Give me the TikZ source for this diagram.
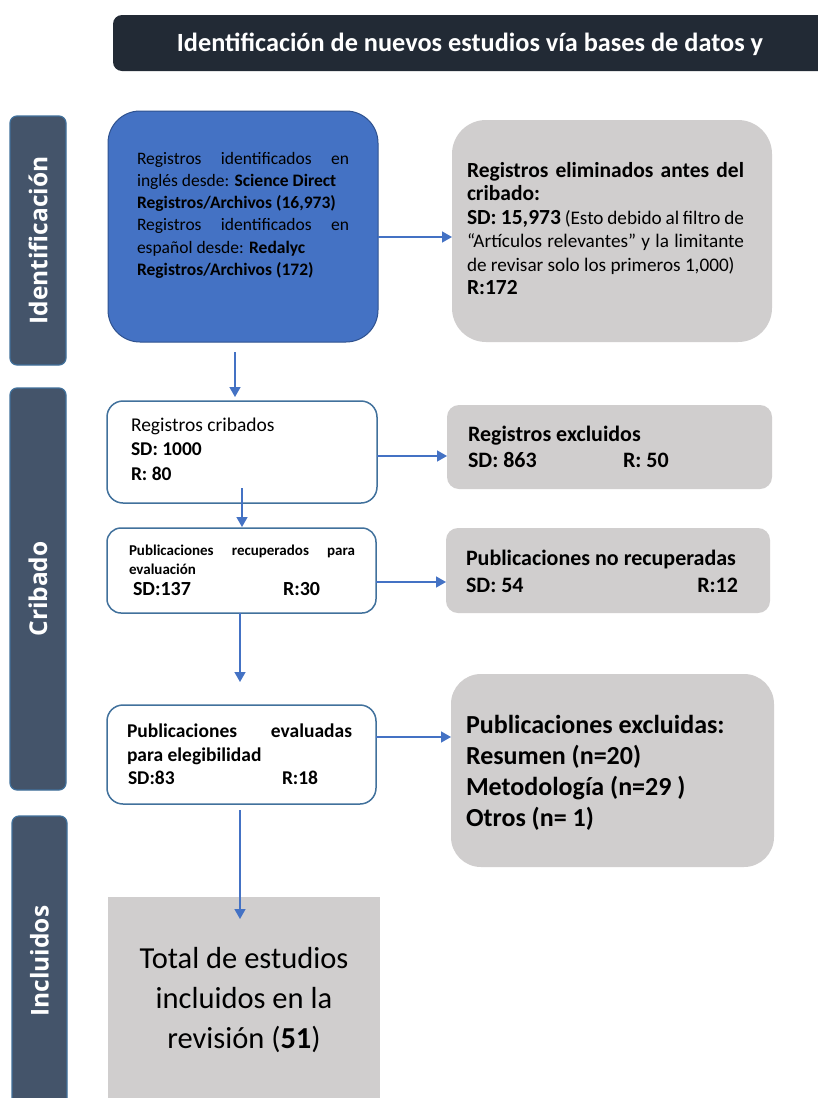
\documentclass[tikz,border=0pt]{standalone}
\usepackage{fontspec}
\setmainfont{Carlito}
\newfontfamily\sidefont{Open Sans}
\usetikzlibrary{arrows.meta}
\definecolor{titlefill}{HTML}{222A35}
\definecolor{sidefill}{HTML}{44546A}
\definecolor{sideline}{HTML}{41719C}
\definecolor{bluefill}{HTML}{4472C4}
\definecolor{blueline}{HTML}{2F528F}
\definecolor{grayfill}{HTML}{D0CECE}
\definecolor{boxline}{HTML}{41719C}
\definecolor{arrowcol}{HTML}{4472C4}
\newcommand\gbB{\fontsize{21.5}{23.5}\selectfont\bfseries}
\begin{document}
\begin{tikzpicture}[x=1pt,y=-1pt,
  shapebox/.style={rectangle, inner sep=0pt, outer sep=0pt, anchor=north west},
  titlebox/.style={shapebox, fill=titlefill, rounded corners=9pt},
  sidebox/.style={shapebox, fill=sidefill, draw=sideline, line width=1.2pt, rounded corners=7pt, text=white, font=\sidefont\bfseries\fontsize{24.5}{26}\selectfont},
  bluebox/.style={shapebox, fill=bluefill, draw=blueline, line width=1pt, rounded corners=32pt},
  graybox/.style={shapebox, fill=grayfill},
  whitebox/.style={shapebox, fill=white, draw=boxline, line width=1.5pt, rounded corners=16pt},
  txt/.style={inner sep=0pt, outer sep=0pt, anchor=base west},
  bt/.style={txt, font=\fontsize{22}{26}\selectfont\bfseries},
  arr/.style={draw=arrowcol, line width=1.5pt, -{Triangle[length=10pt,width=11pt]}}
]
\fill[white] (0,0) rectangle (817,1098);
\useasboundingbox (0,0) rectangle (817,1098);

% title
\node[titlebox, minimum width=720pt, minimum height=56pt] (title) at (113,15) {};
\node[txt, anchor=base, text=white, font=\fontsize{26.3}{30}\selectfont\bfseries] (titlet) at (470,51) {Identificación de nuevos estudios vía bases de datos y};

% side labels
\node[sidebox, minimum width=56pt, minimum height=249pt] (s1) at (10,116) {\rotatebox{90}{Identificación}};
\node[sidebox, minimum width=56pt, minimum height=402pt] (s2) at (10,388) {\rotatebox{90}{Cribado}};
\node[sidebox, minimum width=55pt, minimum height=290pt] (s3) at (12,816) {\rotatebox{90}{Incluidos}};

% identification
\node[bluebox, minimum width=270pt, minimum height=231pt] (id) at (108,111) {};
\node[txt] (idt) at (137,164) {\parbox[t]{212pt}{\fontsize{17.5}{22.3}\selectfont
\makebox[212pt][s]{Registros identificados en}\\
inglés desde: \textbf{Science Direct}\\
\textbf{Registros/Archivos (16,973)}\\
\makebox[212pt][s]{Registros identificados en}\\
español desde: \textbf{Redalyc}\\
\textbf{Registros/Archivos (172)}}};

\node[graybox, minimum width=320pt, minimum height=222pt, rounded corners=34pt] (elim) at (452,120) {};
\node[txt] (elimt) at (467,177) {\parbox[t]{277pt}{\fontsize{19.2}{23.5}\selectfont
\makebox[277pt][s]{\gbB Registros eliminados antes del}\\
{\gbB cribado:}\\
\makebox[277pt][s]{{\gbB SD: 15,973} (Esto debido al filtro de}\\
\makebox[277pt][s]{“Artículos relevantes” y la limitante}\\
de revisar solo los primeros 1,000)\\
{\gbB R:172}}};

% screening
\node[whitebox, minimum width=270pt, minimum height=102pt] (crib) at (107,401) {};
\node[txt] (cribt) at (131,431) {\parbox[t]{200pt}{\fontsize{19.5}{24.5}\selectfont Registros cribados\\ \textbf{SD: 1000}\\ \textbf{R: 80}}};

\node[graybox, minimum width=325pt, minimum height=84pt, rounded corners=12pt] (excl) at (447,405) {};
\node[bt] (exclt) at (468,441) {Registros excluidos};
\node[bt] (excla) at (468,467) {SD: 863};
\node[bt] (exclb) at (623,467) {R: 50};

\node[whitebox, minimum width=269pt, minimum height=85pt, rounded corners=14pt] (recup) at (107,528) {};
\node[txt] (recupt) at (129,555) {\parbox[t]{226pt}{\fontsize{15}{19}\selectfont\bfseries \makebox[226pt][s]{Publicaciones recuperados para}\\ evaluación}};
\node[txt, font=\fontsize{20}{24}\selectfont\bfseries] (recupa) at (133,595) {SD:137};
\node[txt, font=\fontsize{20}{24}\selectfont\bfseries] (recupb) at (283,595) {R:30};

\node[graybox, minimum width=324pt, minimum height=85pt, rounded corners=12pt] (norec) at (446,528) {};
\node[bt] (norect) at (466,565) {Publicaciones no recuperadas};
\node[bt] (noreca) at (466,592) {SD: 54};
\node[bt, anchor=base east] (norecb) at (738,592) {R:12};

\node[whitebox, minimum width=269pt, minimum height=99pt] (eval) at (107,705) {};
\node[txt] (evalt) at (127,737) {\parbox[t]{225pt}{\fontsize{19.5}{24}\selectfont\bfseries \makebox[225pt][s]{Publicaciones evaluadas}\\ para elegibilidad}};
\node[txt, font=\fontsize{19.5}{24}\selectfont\bfseries] (evala) at (128,784) {SD:83};
\node[txt, font=\fontsize{19.5}{24}\selectfont\bfseries] (evalb) at (282,784) {R:18};

\node[graybox, minimum width=323pt, minimum height=193pt, rounded corners=30pt] (excl2) at (451,674) {};
\node[txt] (excl2t) at (466,733) {\parbox[t]{300pt}{\fontsize{26}{31.3}\selectfont\bfseries Publicaciones excluidas:\\ Resumen (n=20)\\ Metodología (n=29 )\\ Otros (n= 1)}};

% included
\node[graybox, minimum width=272pt, minimum height=220pt] (total) at (108,897) {};
\node[inner sep=0pt, anchor=base] (totalt) at (244,968) {\parbox[t]{270pt}{\centering\fontsize{30.5}{40}\selectfont Total de estudios\\ incluidos en la\\ revisión (\textbf{51})}};

% connectors
\coordinate (y1) at (0,237);
\coordinate (y2) at (0,456);
\coordinate (y3) at (0,582);
\coordinate (y4) at (0,737);
\draw[arr] (id.east |- y1) -- (elim.west |- y1);
\draw[arr] ([xshift=-8pt,yshift=-10pt]id.south) -- ([xshift=-7pt,yshift=4pt]crib.north);
\draw[arr] (crib.east |- y2) -- (excl.west |- y2);
\draw[arr] ([yshift=15pt]crib.south) -- ([yshift=1pt]crib.south |- recup.north);
\draw[arr] (recup.east |- y3) -- (norec.west |- y3);
\draw[arr] ([xshift=-1.5pt]recup.south) -- ([xshift=-1.5pt,yshift=23pt]eval.north);
\draw[arr] (eval.east |- y4) -- (excl2.west |- y4);
\draw[arr] ([xshift=-1.5pt,yshift=-6pt]eval.south) -- ([xshift=-4pt,yshift=-22pt]total.north);
\end{tikzpicture}
\end{document}
